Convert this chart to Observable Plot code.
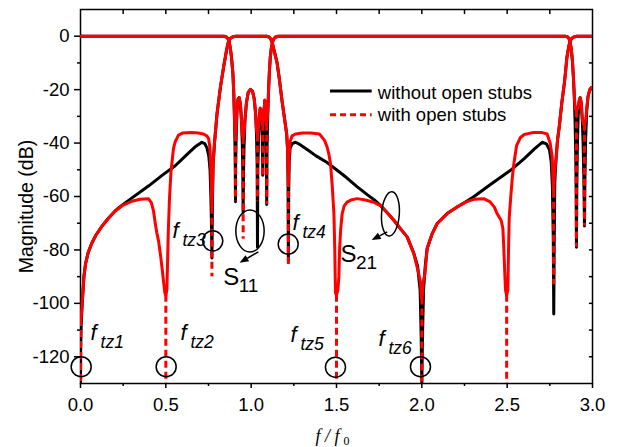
<!DOCTYPE html>
<html><head><meta charset="utf-8">
<script src="https://cdn.jsdelivr.net/npm/d3@7"></script>
<script src="https://cdn.jsdelivr.net/npm/@observablehq/plot@0.6"></script>
<style>html,body{margin:0;padding:0;background:#fff}svg{display:block}</style>
</head><body><div id="chart"></div>
<script>
// ---- ticks ----
const xTicks = [0, 0.5, 1, 1.5, 2, 2.5, 3];
const xMinorTicks = [0.25, 0.75, 1.25, 1.75, 2.25, 2.75];
const xTopTicks = [0.25, 0.5, 0.75, 1, 1.25, 1.5, 1.75, 2, 2.25, 2.5, 2.75];
const yTicks = [0, -20, -40, -60, -80, -100, -120];
const yMinorTicks = [-10, -30, -50, -70, -90, -110];
const yRightTicks = [0, -10, -20, -30, -40, -50, -60, -70, -80, -90, -100, -110, -120];

// ---- series: [f/f0, dB] ----
const s21Without = [[0,-130],[0.001,-118],[0.004,-108],[0.01,-100],[0.02,-90],[0.03,-85],[0.045,-81],[0.066,-77.5],[0.09,-74.5],[0.125,-71.2],[0.16,-68.4],[0.2,-65.6],[0.22,-64.4],[0.3,-60.6],[0.4,-56],[0.48,-52],[0.555,-48.5],[0.62,-44.5],[0.67,-41.5],[0.711,-39.7],[0.728,-40.2],[0.742,-42],[0.752,-45],[0.759,-50],[0.764,-60],[0.768,-72],[0.77,-83],[0.772,-70],[0.774,-58],[0.777,-48],[0.785,-40],[0.8,-29],[0.82,-19],[0.84,-11],[0.855,-5.5],[0.865,-2.5],[0.875,-1],[0.89,-0.3],[0.91,0],[1.09,0],[1.105,-0.3],[1.115,-1],[1.123,-2.3],[1.135,-5.5],[1.152,-10],[1.165,-16],[1.182,-24.7],[1.198,-32],[1.208,-36.5],[1.213,-42],[1.216,-55],[1.218,-84],[1.22,-58],[1.223,-47],[1.228,-42],[1.24,-40.2],[1.26,-39.7],[1.285,-40.5],[1.33,-42.5],[1.38,-44.8],[1.445,-47.3],[1.5,-50],[1.56,-53],[1.62,-56.3],[1.68,-59.3],[1.72,-61.2],[1.76,-63.5],[1.8,-66.3],[1.836,-68.9],[1.88,-72.5],[1.914,-75.1],[1.953,-81.3],[1.975,-86],[1.99,-95],[1.996,-112],[2,-130],[2.004,-112],[2.01,-95],[2.02,-86],[2.031,-79.5],[2.06,-74],[2.09,-70.1],[2.15,-66.3],[2.207,-63.9],[2.227,-63.2],[2.3,-60.3],[2.4,-55.6],[2.52,-50.2],[2.6,-45.8],[2.66,-42.2],[2.705,-39.7],[2.73,-40.3],[2.748,-42.5],[2.758,-47],[2.765,-56],[2.77,-75],[2.773,-104],[2.776,-75],[2.779,-55],[2.785,-47],[2.795,-39],[2.806,-33.4],[2.82,-25],[2.836,-17.2],[2.85,-8],[2.862,-3.5],[2.875,-1],[2.89,-0.3],[2.91,0],[3,0]];

const s11Without = [[0,0],[0.84,0],[0.855,-0.3],[0.865,-1],[0.872,-2.5],[0.878,-4.5],[0.885,-8],[0.893,-14],[0.898,-21],[0.902,-30],[0.905,-40],[0.907,-50],[0.908,-62],[0.909,-50],[0.912,-38],[0.917,-28],[0.923,-23.5],[0.93,-23],[0.937,-25.5],[0.943,-31],[0.948,-40],[0.951,-50],[0.953,-66],[0.955,-52],[0.958,-42],[0.963,-32],[0.972,-25],[0.983,-21],[0.996,-19.9],[1.008,-20.6],[1.018,-23.5],[1.026,-29],[1.031,-36],[1.035,-48],[1.037,-79],[1.039,-50],[1.043,-38],[1.048,-30],[1.053,-27],[1.058,-27.5],[1.062,-31],[1.065,-38],[1.068,-52],[1.071,-38],[1.075,-28],[1.08,-24],[1.084,-24.5],[1.087,-30],[1.089,-40],[1.091,-63],[1.093,-42],[1.097,-30],[1.102,-20],[1.107,-13],[1.112,-8],[1.117,-5],[1.123,-2.8],[1.13,-1.3],[1.14,-0.4],[1.16,0],[2.84,0],[2.855,-0.3],[2.863,-1],[2.87,-2.5],[2.876,-5],[2.882,-9],[2.888,-15],[2.893,-22],[2.898,-32],[2.902,-45],[2.904,-58],[2.906,-79],[2.908,-58],[2.911,-42],[2.916,-30],[2.922,-24.5],[2.928,-23],[2.934,-25],[2.94,-31],[2.945,-40],[2.949,-52],[2.953,-71],[2.956,-52],[2.96,-38],[2.966,-28],[2.974,-22.5],[2.984,-20],[2.993,-19.2],[3,-19.3]];

const s21With = [[0.003,-106],[0.01,-100],[0.02,-90],[0.03,-85],[0.045,-81],[0.066,-77.5],[0.09,-74.5],[0.125,-71.2],[0.16,-68.4],[0.2,-65.6],[0.25,-63.2],[0.3,-61.8],[0.35,-61],[0.398,-60.8],[0.415,-62.3],[0.428,-65.5],[0.438,-70],[0.447,-73.5],[0.457,-76.5],[0.47,-82.5],[0.48,-88],[0.486,-91.5],[0.494,-96],[0.5,-97],[0.506,-95],[0.51,-85],[0.515,-72],[0.522,-60],[0.53,-51],[0.535,-47.8],[0.545,-42],[0.555,-39.5],[0.574,-37],[0.6,-36.2],[0.65,-36],[0.69,-36.2],[0.72,-36.6],[0.74,-37.3],[0.75,-38.2],[0.757,-41],[0.762,-46],[0.766,-55],[0.77,-64],[0.774,-56],[0.777,-48],[0.785,-40],[0.8,-29],[0.82,-19],[0.84,-11],[0.855,-5.5],[0.865,-2.5],[0.875,-1],[0.89,-0.3],[0.91,0],[1.09,0],[1.105,-0.3],[1.115,-1],[1.123,-2.3],[1.135,-5.5],[1.152,-10],[1.165,-16],[1.182,-24.7],[1.198,-32],[1.208,-36.5],[1.213,-42],[1.216,-50],[1.218,-54],[1.22,-50],[1.223,-44],[1.228,-39.5],[1.24,-37.3],[1.26,-36.6],[1.3,-36.2],[1.35,-36.2],[1.4,-36.6],[1.43,-39],[1.445,-41.5],[1.455,-44],[1.465,-47.8],[1.475,-56],[1.485,-66.5],[1.49,-80],[1.494,-96],[1.5,-97],[1.508,-95],[1.514,-90],[1.518,-80],[1.524,-72.7],[1.533,-66.5],[1.545,-63.5],[1.562,-62.1],[1.59,-61.2],[1.621,-60.8],[1.67,-61.3],[1.72,-62.2],[1.76,-63.5],[1.8,-66.3],[1.836,-68.9],[1.88,-72.5],[1.914,-75.1],[1.953,-81.3],[1.982,-89],[1.992,-92],[1.998,-98],[2.002,-98],[2.008,-92],[2.018,-89],[2.031,-79.5],[2.06,-74],[2.09,-70.1],[2.15,-66.3],[2.207,-63.9],[2.26,-62],[2.31,-61],[2.363,-60.8],[2.4,-62],[2.425,-64],[2.441,-66.4],[2.465,-69],[2.475,-72],[2.48,-79],[2.49,-95],[2.497,-97],[2.504,-95],[2.508,-80],[2.512,-68],[2.52,-61],[2.53,-53],[2.539,-47.8],[2.555,-41],[2.578,-37.9],[2.6,-36.8],[2.656,-36],[2.7,-36],[2.734,-36.6],[2.752,-40],[2.764,-45.3],[2.771,-58],[2.777,-52],[2.785,-47],[2.795,-39],[2.806,-33.4],[2.82,-25],[2.836,-17.2],[2.85,-8],[2.862,-3.5],[2.875,-1],[2.89,-0.3],[2.91,0],[3,0]];

const s11With = [[0,0],[0.84,0],[0.855,-0.3],[0.865,-1],[0.872,-2.5],[0.878,-4.5],[0.885,-8],[0.893,-14],[0.898,-21],[0.902,-30],[0.905,-36],[0.908,-37],[0.911,-36],[0.913,-33],[0.917,-28],[0.923,-23.5],[0.93,-23],[0.937,-25.5],[0.943,-31],[0.948,-37],[0.953,-38],[0.958,-37],[0.963,-32],[0.972,-25],[0.983,-21],[0.996,-19.9],[1.008,-20.6],[1.018,-23.5],[1.026,-29],[1.031,-35],[1.037,-37],[1.042,-35],[1.048,-30],[1.053,-27],[1.058,-27.5],[1.062,-31],[1.068,-33],[1.074,-30],[1.08,-24],[1.084,-24.5],[1.087,-30],[1.091,-33],[1.095,-31],[1.1,-24],[1.102,-20],[1.107,-13],[1.112,-8],[1.117,-5],[1.123,-2.8],[1.13,-1.3],[1.14,-0.4],[1.16,0],[2.84,0],[2.855,-0.3],[2.863,-1],[2.87,-2.5],[2.876,-5],[2.882,-9],[2.888,-15],[2.893,-22],[2.898,-27],[2.906,-28],[2.913,-27],[2.916,-26],[2.922,-24],[2.928,-23],[2.934,-25],[2.94,-31],[2.947,-33],[2.953,-33],[2.958,-32],[2.962,-30],[2.966,-27],[2.974,-22.5],[2.984,-20],[2.993,-19.2],[3,-19.3]];

// dashed deep parts of the "with open stubs" curves: f, solid end, bottom
const withTails = [[0.001,-106,-130],[0.5,-97,-130],[0.77,-64,-90],[1.218,-54,-86],[1.5,-97,-130],[2,-98,-130],[2.497,-97,-130],[2.772,-58,-93],
  [0.908,-37,-62],[0.953,-38,-76],[1.037,-37,-62],[1.068,-33,-52],[1.091,-33,-63],[2.906,-28,-79],[2.953,-33,-71]];

// ---- annotations ----
const legendLabels = ["without open stubs", "with open stubs"];
const tzLabels = [
  {name: "tz1", f: 0.059, dB: -113.9},
  {name: "tz2", f: 0.586, dB: -113.9},
  {name: "tz3", f: 0.539, dB: -75.4},
  {name: "tz4", f: 1.242, dB: -72.7},
  {name: "tz5", f: 1.230, dB: -114.3},
  {name: "tz6", f: 1.746, dB: -115.8}
];
const tzCircles = [[0.004,-123.7],[0.502,-123.7],[1.494,-123.9],[1.992,-123.7],[0.775,-76.6],[1.217,-77.8]];
const sLabels = [{main: "S", sub: "11", f: 0.836, dB: -93.3}, {main: "S", sub: "21", f: 1.523, dB: -84.6}];
const ellipses = [{f: 0.996, dB: -73.1, hf: 0.083, hdB: 7.9, rot: 0}, {f: 1.819, dB: -66.7, hf: 0.052, hdB: 8.3, rot: 4}];
const arrows = [{f1: 1.045, dB1: -80.9, f2: 0.935, dB2: -85.0}, {f1: 1.80, dB1: -73.4, f2: 1.709, dB2: -76.5}];

const pts = arr => arr.map(([f, dB]) => ({f, dB}));
const tails = withTails.map(([f, y1, y2]) => ({f, y1, y2}));
const circ = tzCircles.map(([f, dB]) => ({f, dB}));

function annotationShapes(index, scales) {
  const g = d3.create("svg:g").attr("fill", "none").attr("stroke", "black").attr("stroke-width", 1.5);
  for (const e of ellipses) {
    const cx = scales.x(e.f), cy = scales.y(e.dB);
    const rx = Math.abs(scales.x(e.f + e.hf) - cx), ry = Math.abs(scales.y(e.dB + e.hdB) - cy);
    g.append("ellipse").attr("cx", cx).attr("cy", cy).attr("rx", rx).attr("ry", ry)
      .attr("transform", `rotate(${e.rot},${cx},${cy})`);
  }
  for (const a of arrows) {
    const x1 = scales.x(a.f1), y1 = scales.y(a.dB1), x2 = scales.x(a.f2), y2 = scales.y(a.dB2);
    const ang = Math.atan2(y2 - y1, x2 - x1), L = 9, w = 3.6;
    const bx = x2 - L * Math.cos(ang), by = y2 - L * Math.sin(ang);
    g.append("line").attr("x1", x1).attr("y1", y1).attr("x2", bx).attr("y2", by);
    g.append("path").attr("fill", "black").attr("stroke", "none")
      .attr("d", `M${x2},${y2}L${bx + w * Math.sin(ang)},${by - w * Math.cos(ang)}L${bx - w * Math.sin(ang)},${by + w * Math.cos(ang)}Z`);
  }
  return g.node();
}

const sans = "'Liberation Sans', Arial, sans-serif";
const serif = "'Liberation Serif', 'Times New Roman', serif";
const plot = Plot.plot({
  width: 626, height: 447,
  marginLeft: 80, marginRight: 34, marginTop: 9, marginBottom: 64,
  x: {domain: [0, 3]},
  y: {domain: [-130, 10]},
  style: {fontFamily: sans, fontSize: "18.5px", color: "#000", background: "#fff"},
  marks: [
    Plot.axisX(xTicks, {tickSize: 5, tickPadding: 9, tickFormat: d3.format(".1f"), fontSize: 18.5, label: null, strokeWidth: 1.5}),
    Plot.axisX(xMinorTicks, {tickSize: 3, tickFormat: () => "", label: null, strokeWidth: 1.5}),
    Plot.axisY(yTicks, {tickSize: 6, tickPadding: 5, tickFormat: d => String(d), fontSize: 18.5, label: null, strokeWidth: 1.5}),
    Plot.axisY(yMinorTicks, {tickSize: 3, tickFormat: () => "", label: null, strokeWidth: 1.5}),
    Plot.ruleX(xTopTicks, {y1: 10, y2: 8.1, strokeWidth: 1.5}),
    Plot.ruleY(yRightTicks, {x1: 3, x2: 2.982, strokeWidth: 1.5}),
    Plot.frame({strokeWidth: 1.5}),
    Plot.line(pts(s21Without), {x: "f", y: "dB", stroke: "#000", strokeWidth: 3, clip: true}),
    Plot.line(pts(s11Without), {x: "f", y: "dB", stroke: "#000", strokeWidth: 3, clip: true}),
    Plot.line(pts(s21With), {x: "f", y: "dB", stroke: "#ff0000", strokeWidth: 3, clip: true}),
    Plot.line(pts(s11With), {x: "f", y: "dB", stroke: "#ff0000", strokeWidth: 3, clip: true}),
    Plot.ruleX(tails, {x: "f", y1: "y1", y2: "y2", stroke: "#ff0000", strokeWidth: 3, strokeDasharray: "7,4", clip: true}),
    // legend
    Plot.ruleY([-20.55], {x1: 1.465, x2: 1.709, stroke: "#000", strokeWidth: 3}),
    Plot.ruleY([-29.4], {x1: 1.465, x2: 1.709, stroke: "#ff0000", strokeWidth: 3, strokeDasharray: "6,4"}),
    Plot.text([legendLabels[0]], {x: 1.742, y: -23.4, textAnchor: "start", lineAnchor: "bottom", fontSize: 18.5}),
    Plot.text([legendLabels[1]], {x: 1.742, y: -31.6, textAnchor: "start", lineAnchor: "bottom", fontSize: 18.5}),
    // transmission-zero markers
    Plot.dot(circ, {x: "f", y: "dB", r: 10, stroke: "#000", strokeWidth: 1.5, fill: "none"}),
    Plot.text(tzLabels, {x: "f", y: "dB", text: () => "f", fontStyle: "italic", fontSize: 22, textAnchor: "start", lineAnchor: "bottom"}),
    Plot.text(tzLabels, {x: "f", y: "dB", text: "name", dx: 10, dy: 8, fontStyle: "italic", fontSize: 17.5, textAnchor: "start", lineAnchor: "bottom"}),
    Plot.text(sLabels, {x: "f", y: "dB", text: "main", fontSize: 24, textAnchor: "start", lineAnchor: "bottom"}),
    Plot.text(sLabels, {x: "f", y: "dB", text: "sub", dx: 15.5, dy: 7, fontSize: 19, textAnchor: "start", lineAnchor: "bottom"}),
    annotationShapes,
    // axis titles
    Plot.text(["Magnitude (dB)"], {frameAnchor: "left", textAnchor: "middle", rotate: -90, dx: -54, dy: 10, fontSize: 19.5}),
    Plot.text(["f / f"], {frameAnchor: "bottom", dx: -21, dy: 58, textAnchor: "start", lineAnchor: "bottom", fontFamily: serif, fontStyle: "italic", fontSize: 18}),
    Plot.text(["0"], {frameAnchor: "bottom", dx: 7, dy: 61.5, textAnchor: "start", lineAnchor: "bottom", fontFamily: serif, fontSize: 12})
  ]
});
document.getElementById("chart").append(plot);
</script>
</body></html>
